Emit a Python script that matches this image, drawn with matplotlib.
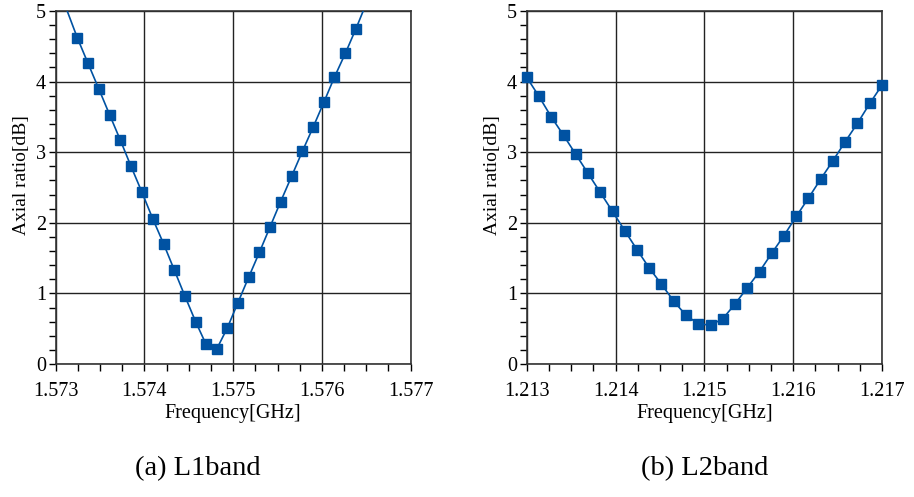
import numpy as np
from matplotlib import pyplot as plt
from matplotlib.ticker import MultipleLocator

# L1 band (first and last points lie outside the axes, line only)
freq_l1 = [1.573124, 1.573244, 1.573364, 1.573485, 1.573608, 1.573729, 1.573849,
           1.573973, 1.574093, 1.574217, 1.574337, 1.574457, 1.574577, 1.574694,
           1.574814, 1.574934, 1.575054, 1.575175, 1.575295, 1.575415, 1.575535,
           1.575659, 1.575779, 1.575903, 1.576023, 1.576140, 1.576264, 1.576384,
           1.576504]
ar_l1 = [5.02, 4.62, 4.26, 3.90, 3.53, 3.17, 2.80, 2.43, 2.06, 1.70, 1.33, 0.96,
         0.60, 0.28, 0.21, 0.51, 0.87, 1.23, 1.58, 1.94, 2.30, 2.66, 3.01, 3.36,
         3.71, 4.06, 4.40, 4.75, 5.12]

# L2 band
freq_l2 = [1.213000, 1.213138, 1.213276, 1.213414, 1.213552, 1.213690, 1.213828,
           1.213966, 1.214103, 1.214241, 1.214379, 1.214517, 1.214655, 1.214793,
           1.214931, 1.215069, 1.215207, 1.215345, 1.215483, 1.215621, 1.215759,
           1.215897, 1.216034, 1.216172, 1.216310, 1.216448, 1.216586, 1.216724,
           1.216862, 1.217000]
ar_l2 = [4.06, 3.79, 3.50, 3.24, 2.97, 2.70, 2.43, 2.16, 1.89, 1.62, 1.36, 1.13,
         0.89, 0.69, 0.57, 0.55, 0.64, 0.85, 1.08, 1.31, 1.57, 1.82, 2.09, 2.35,
         2.62, 2.88, 3.15, 3.41, 3.69, 3.95]

xticks_l1 = [1.573, 1.574, 1.575, 1.576, 1.577]
xticks_l2 = [1.213, 1.214, 1.215, 1.216, 1.217]
captions = ["(a) L1band", "(b) L2band"]

plt.rcParams['font.family'] = ['Liberation Serif', 'DejaVu Serif']
color = '#0052a2'

fig = plt.figure(figsize=(9.14, 4.97), dpi=100)
ax1 = fig.add_axes([0.0609, 0.2676, 0.3884, 0.7103])
ax2 = fig.add_axes([0.5763, 0.2676, 0.3887, 0.7103])

panels = [
    (ax1, freq_l1, ar_l1, xticks_l1, slice(1, -1)),
    (ax2, freq_l2, ar_l2, xticks_l2, None),
]

for ax, fx, fy, xt, mev in panels:
    ax.plot(fx, fy, color=color, lw=1.2, marker='s', markersize=7.5,
            markeredgecolor=color, markerfacecolor=color, markevery=mev,
            clip_on=(mev is not None), zorder=3)
    ax.set_xlim(xt[0], xt[-1])
    ax.set_ylim(0, 5)
    ax.set_xticks(xt)
    ax.set_xticklabels([f"{v:.3f}" for v in xt])
    ax.xaxis.set_minor_locator(MultipleLocator(0.00025))
    ax.set_yticks([0, 1, 2, 3, 4, 5])
    ax.yaxis.set_minor_locator(MultipleLocator(0.2))
    ax.tick_params(which='both', direction='out', length=5, width=1,
                   labelsize=14.5, top=False, right=False)
    ax.tick_params(axis='x', pad=8)
    ax.tick_params(axis='y', pad=2)
    ax.grid(True, which='major', color='#222222', lw=1)
    for s in ax.spines.values():
        s.set_linewidth(1.2)
        s.set_color('#333333')
    ax.set_xlabel("Frequency[GHz]", fontsize=14.5)
    ax.set_ylabel("Axial ratio[dB]", fontsize=14)
    ax.xaxis.set_label_coords(0.5, -0.113)
    ax.yaxis.set_label_coords(-0.072, 0.535)

fig.text(0.2168, 0.058, captions[0], ha='center', va='center', fontsize=20.5)
fig.text(0.7707, 0.058, captions[1], ha='center', va='center', fontsize=20.5)

plt.savefig("out.png", dpi=100)
